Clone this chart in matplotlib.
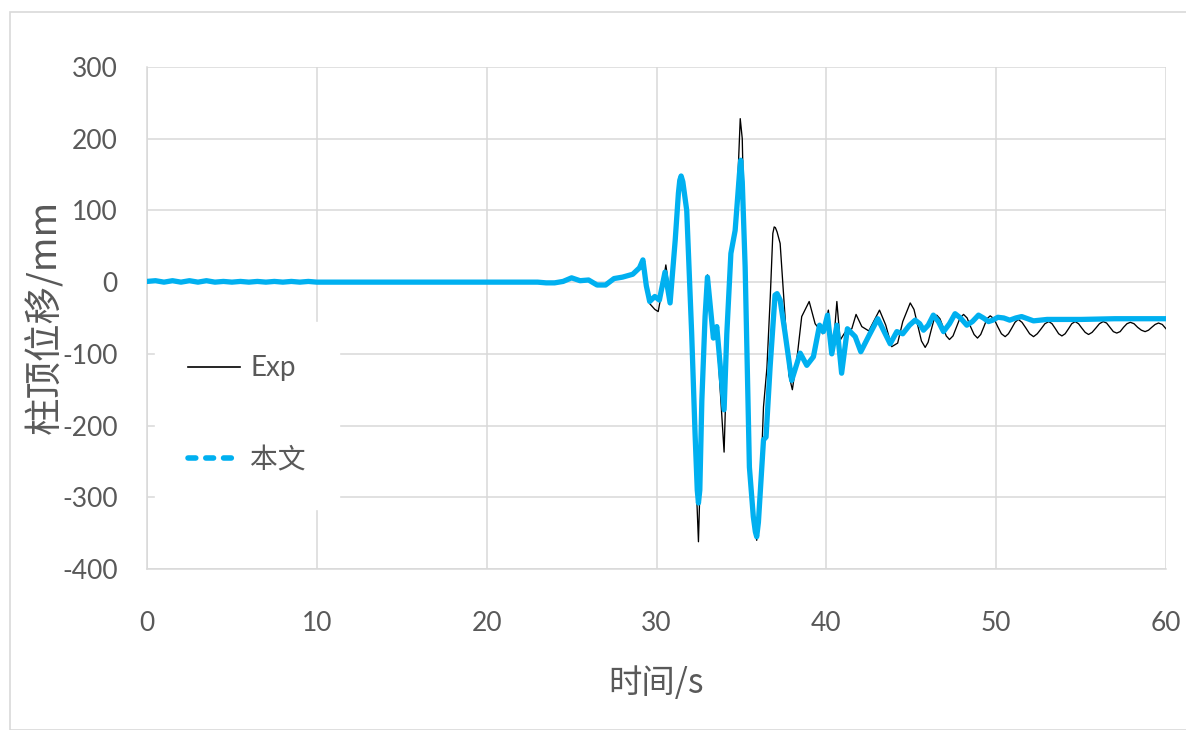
import matplotlib
matplotlib.use("Agg")
import matplotlib.pyplot as plt
from matplotlib.lines import Line2D
from matplotlib.patches import Rectangle

plt.rcParams["axes.unicode_minus"] = False

# ---------------- data ----------------
t_early = [0, 0.5, 1, 1.5, 2, 2.5, 3, 3.5, 4, 4.5, 5, 5.5, 6, 6.5, 7, 7.5, 8, 8.5, 9, 9.5,
           10, 12, 14, 16, 18, 20, 21, 22, 23, 23.5, 24, 24.5, 25, 25.5, 26, 26.5, 27,
           27.5, 28, 28.6, 29.0, 29.2]
y_early = [1, 2, 0, 2, 0, 2, 0, 2, 0, 1, 0, 1, 0, 1, 0, 1, 0, 1, 0, 1,
           0, 0, 0, 0, 0, 0, 0, 0, 0, -1, -1, 1, 6, 2, 3, -4, -4,
           5, 7, 11, 20, 31]

t_sim = [29.4, 29.6, 29.9, 30.17, 30.5, 30.8, 31.1, 31.29, 31.37, 31.45, 31.55, 31.78,
         32.07, 32.27, 32.4, 32.47, 32.55, 32.67, 32.86, 33.0, 33.35, 33.55, 33.98,
         34.14, 34.38, 34.63, 34.88, 34.96, 35.05, 35.22, 35.47, 35.7, 35.82, 35.9,
         36.0, 36.3, 36.45, 36.69, 36.98, 37.1, 37.28, 37.57, 37.96,
         38.46, 38.85, 39.24, 39.6, 39.83, 40.07, 40.32, 40.62, 40.9, 41.24, 41.7,
         42.03, 42.48, 43.03, 43.76, 44.15, 44.5, 44.9, 45.23, 45.5, 45.72, 46.0, 46.3,
         46.6, 46.9, 47.25, 47.58, 47.9, 48.27, 48.6, 48.96, 49.25, 49.55, 49.8, 50.1,
         50.45, 50.8, 51.15, 51.5, 51.85, 52.2, 52.6, 53, 55, 57, 60]
y_sim = [-5, -27, -20, -25, 14, -29, 58, 124, 142, 148, 140, 100,
         -71, -211, -290, -308, -290, -165, -48, 7, -78, -62, -178,
         -72, 40, 72, 150, 170, 140, 21, -258, -327, -348, -355,
         -335, -220, -216, -118, -18, -16, -25, -71, -137,
         -99, -116, -104, -60, -69, -46, -100, -60, -127, -65, -76,
         -97, -76, -51, -86, -69, -72, -60, -53, -58, -67, -60, -46,
         -55, -69, -58, -44, -50, -60, -55, -46, -50, -55, -53, -49,
         -50, -53, -50, -48, -51, -54, -53, -52, -52, -51, -51]

t_exp = [29.4, 29.6, 29.9, 30.1, 30.3, 30.55, 30.8, 31.1, 31.29, 31.45, 31.78, 32.07,
         32.27, 32.47, 32.67, 32.86, 33.0, 33.2, 33.35, 33.55, 33.75, 33.98, 34.15,
         34.38, 34.63, 34.8, 34.93, 35.05, 35.22, 35.47, 35.7, 35.9, 36.1, 36.3, 36.5,
         36.7, 36.85, 36.93, 37.0, 37.1, 37.28, 37.6, 37.8, 38.0, 38.3, 38.55, 38.99,
         39.34, 39.79, 40.12, 40.38, 40.62, 40.81, 41.1, 41.5, 41.75, 42.09, 42.5,
         43.13, 43.5, 43.85, 44.2, 44.5,
         44.94, 45.16, 45.38, 45.6, 45.82, 45.99, 46.16, 46.33, 46.5, 46.69, 46.88,
         47.06, 47.25, 47.46, 47.67, 47.87, 48.08, 48.29, 48.49, 48.7, 48.9, 49.09,
         49.28, 49.46, 49.65, 49.87, 50.09, 50.31, 50.53, 50.72, 50.92, 51.11, 51.3,
         51.52, 51.75, 51.97, 52.2, 52.42, 52.65, 52.87, 53.1, 53.29, 53.49, 53.68,
         53.87, 54.06, 54.26, 54.45, 54.65, 54.85, 55.04, 55.24, 55.44, 55.65, 55.87,
         56.08, 56.3, 56.5, 56.7, 56.9, 57.1, 57.3, 57.5, 57.7, 57.9, 58.12, 58.33,
         58.55, 58.77, 58.97, 59.16, 59.36, 59.56, 59.78, 60]
y_exp = [-5, -30, -38, -41, -15, 24, -20, 60, 125, 148, 100, -80,
         -240, -362, -190, -50, 10, -30, -60, -70, -150, -237, -100,
         30, 75, 150, 228, 200, 0, -260, -330, -360, -300, -174, -120,
         -20, 68, 77, 76, 70, 54, -60, -130, -150, -100, -48, -27,
         -58, -72, -39, -100, -27, -81, -70, -65, -45, -62, -68,
         -39, -60, -90, -85, -55,
         -29, -38, -60, -82, -91, -84, -68, -53, -46, -51, -63,
         -75, -80, -75, -62, -50, -45, -50, -62, -73, -78, -73,
         -62, -51, -47, -51, -62, -72, -76, -72, -64, -56, -52,
         -56, -64, -72, -76, -72, -65, -58, -55, -58, -65, -72,
         -75, -72, -65, -58, -55, -58, -64, -70, -73, -70, -64,
         -58, -55, -57, -63, -69, -71, -69, -63, -58, -56, -58, -63,
         -67, -69, -67, -63, -59, -57, -59, -65]

x_ticks = [0, 10, 20, 30, 40, 50, 60]
y_ticks = [300, 200, 100, 0, -100, -200, -300, -400]
series_labels = ["Exp", "本文"]

# ---------------- figure ----------------
W, H = 1186, 730
fig = plt.figure(figsize=(W / 100, H / 100), dpi=100)
ax = fig.add_axes([147 / W, 1 - 569 / H, (1166 - 147) / W, (569 - 67) / H])

# outer chart border
fig.patches.append(Rectangle((10 / W, 0), 1.0, 1 - 12 / H, transform=fig.transFigure,
                             fill=False, edgecolor="#d9d9d9", linewidth=1.2, zorder=0))

blue = "#00B0F0"
ax.plot(t_early + t_exp, y_early + y_exp, color="black", linewidth=0.95, zorder=3,
        solid_joinstyle="round")
ax.plot(t_early + t_sim, y_early + y_sim, color=blue, linewidth=3.8, zorder=4,
        solid_joinstyle="round", solid_capstyle="round")

ax.set_xlim(0, 60)
ax.set_ylim(-400, 300)
ax.set_xticks(x_ticks)
ax.set_yticks(y_ticks)
ax.grid(True, color="#d9d9d9", linewidth=1.1, zorder=0)
ax.set_axisbelow(True)
for s in ["top", "right"]:
    ax.spines[s].set_visible(False)
for s in ["left", "bottom"]:
    ax.spines[s].set_color("#d9d9d9")
    ax.spines[s].set_linewidth(1.1)
ax.tick_params(length=0, labelcolor="#595959", labelsize=19)
ax.tick_params(axis="x", pad=30)
ax.tick_params(axis="y", pad=21)
for lab in ax.get_xticklabels() + ax.get_yticklabels():
    lab.set_family(["Lato", "DejaVu Sans"])

ax.set_xlabel("时间/s", fontsize=24, color="#595959",
              family=["Noto Sans CJK SC", "DejaVu Sans"], labelpad=22)
ax.set_ylabel("柱顶位移/mm", fontsize=27, color="#595959",
              family=["Noto Sans CJK SC", "DejaVu Sans"])
ax.yaxis.set_label_coords(-0.080, 0.502)

handles = [Line2D([], [], color="black", linewidth=1.2),
           Line2D([], [], color=blue, linewidth=4, linestyle=(0, (1.4, 1.8)),
                  dash_capstyle="round")]
leg = ax.legend(handles, series_labels, loc="upper left",
                bbox_to_anchor=((155 - 147) / 1019, (569 - 322) / 502),
                borderaxespad=0, frameon=True, fancybox=False, framealpha=1,
                edgecolor="white", facecolor="white",
                handlelength=1.87, handletextpad=0.36, labelspacing=2.3,
                borderpad=1.2, prop={"family": ["Lato", "Noto Sans CJK SC"], "size": 20})
for txt in leg.get_texts():
    txt.set_color("#595959")
leg.get_texts()[1].set_family(["Noto Sans CJK SC", "DejaVu Sans"])
leg.set_zorder(5)

fig.savefig("out.png", dpi=100)
